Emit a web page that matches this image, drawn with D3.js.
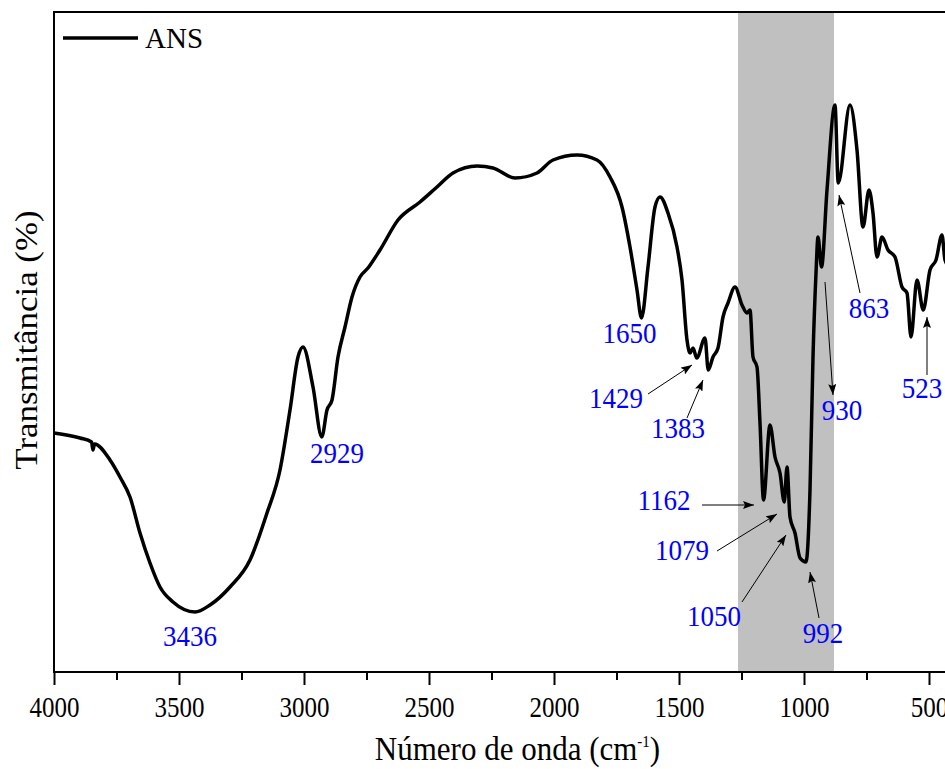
<html>
<head>
	<title>FTIR - ANS</title>
	<style type="text/css">
		body{
			margin: 0;
			background-color: #fff;
		}
		svg{
			display: block;
			background-color: #fff;
		}
		.axis line{
			stroke: #000;
			stroke-width: 2px;
		}
		.axis path{
			display: none;
		}
		.axis text, .title, .legendText{
			font-family: "Times New Roman", "Liberation Serif", serif;
			fill: #000;
		}
		.peak{
			font-family: "Times New Roman", "Liberation Serif", serif;
			font-size: 27px;
			fill: #0000ff;
		}
	</style>
	<script type="text/javascript" src="https://d3js.org/d3.v7.min.js"></script>
</head>
<body>
<div id="chart"></div>

<script type="text/javascript">
	// spectrum (wavenumber in cm-1, transmittance in arbitrary %)
	var wavenumber = [4000, 3896, 3850, 3844, 3838, 3776, 3736, 3696, 3656, 3616, 3576, 3524, 3436, 3376, 3296, 3216, 3148, 3096, 3056, 3024,
		3004, 2964, 2929, 2908, 2888, 2864, 2836, 2808, 2776, 2744, 2696, 2624, 2536, 2468, 2404, 2308, 2244, 2156, 2068, 2004,
		1908, 1828, 1776, 1728, 1696, 1668, 1650, 1624, 1596, 1576, 1544, 1508, 1488, 1468, 1456, 1444, 1429, 1396, 1383, 1364,
		1344, 1324, 1304, 1276, 1248, 1228, 1216, 1204, 1188, 1176, 1162, 1136, 1116, 1096, 1079, 1068, 1056, 1036, 1016, 992,
		976, 964, 952, 944, 930, 908, 876, 863, 816, 788, 764, 740, 724, 708, 688, 664, 636, 608, 588, 572,
		548, 523, 496, 472, 448, 436, 416];
	var transmittance = [23.9, 23.4, 23.0, 22.2, 22.8, 21.2, 19.5, 17.5, 13.9, 10.9, 8.5, 7.0, 6.0, 6.7, 8.5, 11.2, 15.9, 20.2, 26.2, 31.5,
		32.5, 28.5, 23.5, 26.2, 27.2, 31.5, 34.5, 37.5, 39.5, 40.4, 42.2, 45.2, 47.0, 48.5, 49.9, 50.6, 50.4, 49.4, 49.9, 51.2,
		51.7, 51.2, 49.5, 46.5, 42.5, 38.2, 35.4, 40.5, 46.5, 47.5, 45.9, 42.5, 39.2, 33.2, 31.9, 32.4, 31.4, 33.4, 30.2, 31.5,
		32.4, 35.5, 36.9, 38.5, 36.7, 35.9, 36.2, 31.5, 30.5, 24.9, 17.2, 24.7, 21.5, 19.9, 17.0, 20.5, 15.5, 13.9, 11.4, 11.0,
		18.2, 31.5, 39.9, 43.5, 40.5, 48.2, 56.7, 48.9, 56.7, 52.2, 44.5, 48.2, 45.9, 41.5, 43.5, 42.2, 41.5, 38.5, 37.9, 33.5,
		39.2, 36.2, 40.2, 41.2, 43.7, 41.2, 40.4];

	var majorTicks = [4000, 3500, 3000, 2500, 2000, 1500, 1000, 500];
	var minorTicks = [3750, 3250, 2750, 2250, 1750, 1250, 750];
	var band = [1264, 880];
	var peakLabels = ['3436', '2929', '1650', '1429', '1383', '1162', '1079', '1050', '992', '930', '863', '523'];
	var seriesName = 'ANS';

	(function(){
		var width = 945, height = 769;
		var plotLeft = 54, plotTop = 12, plotBottom = 672;

		var svg = d3.select('#chart')
			.append('svg')
			.attr('width', width)
			.attr('height', height);

		var defs = svg.append('defs');
		defs.append('marker')
			.attr('id', 'head')
			.attr('markerUnits', 'userSpaceOnUse')
			.attr('markerWidth', 11)
			.attr('markerHeight', 8)
			.attr('refX', 11)
			.attr('refY', 4)
			.attr('orient', 'auto')
			.append('path')
			.attr('d', 'M0,0 L11,4 L0,8 L2,4 Z')
			.attr('fill', '#000');

		// x runs past the right edge of the picture, like the original crop
		var xScale = d3.scaleLinear()
			.domain([4000, 400])
			.range([plotLeft, plotLeft + 3600 * 0.25]);
		var yScale = d3.scaleLinear()
			.domain([0, 66])
			.range([plotBottom, plotTop]);

		// highlighted band
		svg.append('rect')
			.attr('x', xScale(band[0]))
			.attr('y', plotTop)
			.attr('width', xScale(band[1]) - xScale(band[0]))
			.attr('height', plotBottom - plotTop)
			.attr('fill', '#c0c0c0');

		// frame
		svg.append('rect')
			.attr('x', plotLeft)
			.attr('y', plotTop)
			.attr('width', xScale(400) - plotLeft)
			.attr('height', plotBottom - plotTop)
			.attr('fill', 'none')
			.attr('stroke', '#000')
			.attr('stroke-width', 2);

		var line = d3.line()
			.x(function(d){ return xScale(d[0]); })
			.y(function(d){ return yScale(d[1]); })
			.curve(d3.curveMonotoneX);

		svg.append('path')
			.datum(d3.zip(wavenumber, transmittance))
			.attr('d', line)
			.attr('fill', 'none')
			.attr('stroke', '#000')
			.attr('stroke-width', 3.5)
			.attr('stroke-linejoin', 'round');

		// axes
		var xAxisG = svg.append('g')
			.attr('class', 'axis')
			.attr('transform', 'translate(0,' + plotBottom + ')')
			.call(d3.axisBottom(xScale).tickValues(majorTicks).tickSize(13).tickPadding(6).tickFormat(d3.format('d')));
		xAxisG.selectAll('text')
			.attr('font-size', 25)
			.attr('y', 0)
			.attr('dy', 0)
			.attr('transform', 'translate(0,45) scale(1,1.16)');

		svg.append('g')
			.attr('class', 'axis')
			.attr('transform', 'translate(0,' + plotBottom + ')')
			.call(d3.axisBottom(xScale).tickValues(minorTicks).tickSize(8).tickFormat(''));

		svg.append('text')
			.attr('class', 'title')
			.attr('font-size', 31)
			.attr('text-anchor', 'middle')
			.attr('transform', 'translate(' + ((373 + 662) / 2) + ',760) scale(1,1.12)')
			.html('Número de onda (cm<tspan font-size="15" dy="-12">-1</tspan><tspan dy="12">)</tspan>');

		svg.append('text')
			.attr('class', 'title')
			.attr('font-size', 32)
			.attr('text-anchor', 'middle')
			.attr('transform', 'translate(37,340) rotate(-90) scale(1.09,1)')
			.text('Transmitância (%)');

		// legend
		svg.append('line')
			.attr('x1', 63).attr('x2', 138)
			.attr('y1', 38).attr('y2', 38)
			.attr('stroke', '#000')
			.attr('stroke-width', 3.5);
		svg.append('text')
			.attr('class', 'legendText')
			.attr('font-size', 29)
			.attr('x', 145)
			.attr('y', 48)
			.text(seriesName);

		// label layout in data units: [text x, text y, arrow from x, from y, to x, to y]
		var layout = {
			'3436': [3456, 2.6],
			'2929': [2868, 20.9],
			'1650': [1698, 32.9],
			'1429': [1752, 26.4, 1624, 27.8, 1448, 30.7],
			'1383': [1504, 23.4, 1468, 25.4, 1404, 29.2],
			'1162': [1560, 16.2, 1408, 16.7, 1200, 16.7],
			'1079': [1488, 11.2, 1348, 12.1, 1108, 15.8],
			'1050': [1360, 4.6, 1248, 7.0, 1072, 13.7],
			'992': [924, 2.9, 940, 5.4, 976, 10.0],
			'930': [848, 25.2, 916, 39.0, 884, 27.7],
			'863': [740, 35.4, 776, 37.9, 860, 47.7],
			'523': [528, 27.4, 508, 29.7, 508, 35.5]
		};

		peakLabels.forEach(function(p){
			var l = layout[p];
			if(l.length > 2){
				svg.append('line')
					.attr('x1', xScale(l[2])).attr('y1', yScale(l[3]))
					.attr('x2', xScale(l[4])).attr('y2', yScale(l[5]))
					.attr('stroke', '#000')
					.attr('stroke-width', 1)
					.attr('marker-end', 'url(#head)');
			}
			svg.append('text')
				.attr('class', 'peak')
				.attr('text-anchor', 'middle')
				.attr('transform', 'translate(' + xScale(l[0]) + ',' + yScale(l[1]) + ') scale(1,1.08)')
				.text(p);
		});
	})();
</script>
</body>
</html>
